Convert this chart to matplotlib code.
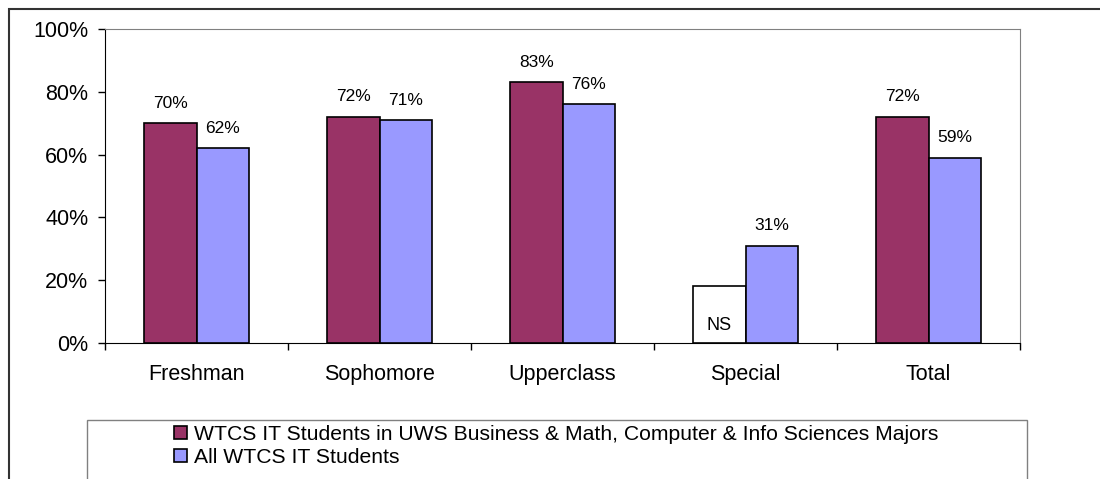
import numpy as np
import matplotlib.pyplot as plt
from matplotlib.patches import Rectangle, Patch

plt.rcParams['font.family'] = ['Liberation Sans', 'DejaVu Sans']

categories = ["Freshman", "Sophomore", "Upperclass", "Special", "Total"]
uws_majors = [70, 72, 83, 18, 72]
all_students = [62, 71, 76, 31, 59]
uws_labels = ["70%", "72%", "83%", "NS", "72%"]
all_labels = ["62%", "71%", "76%", "31%", "59%"]
y_ticks = [0, 20, 40, 60, 80, 100]
y_tick_labels = ["0%", "20%", "40%", "60%", "80%", "100%"]
series_names = ["WTCS IT Students in UWS Business & Math, Computer & Info Sciences Majors",
                "All WTCS IT Students"]

maroon = "#993366"
lilac = "#9999FF"

W, H = 1100, 479
fig = plt.figure(figsize=(W / 100, H / 100), dpi=100)

# outer chart frame (runs off the right and bottom edges)
fig.patches.append(Rectangle((8.5 / W, -0.05), 1.2, 1 - 9 / H + 0.05,
                             transform=fig.transFigure, fill=False,
                             edgecolor="#333333", linewidth=1.5))

ax = fig.add_axes([105 / W, 1 - 343 / H, (1020 - 105) / W, (343 - 29) / H])

x = np.arange(len(categories))
w = 0.285
face_uws = [maroon if lab != "NS" else "white" for lab in uws_labels]
ax.bar(x - w / 2, uws_majors, w, color=face_uws, edgecolor="black", linewidth=1.2, zorder=3)
ax.bar(x + w / 2, all_students, w, color=lilac, edgecolor="black", linewidth=1.2, zorder=3)

for i in range(len(categories)):
    if uws_labels[i] == "NS":
        ax.annotate("NS", (x[i] - w / 2, 0), xytext=(0, 9), textcoords="offset points",
                    ha="center", va="baseline", fontsize=13)
    else:
        ax.annotate(uws_labels[i], (x[i] - w / 2, uws_majors[i]), xytext=(0, 9),
                    textcoords="offset points", ha="center", va="bottom", fontsize=12.5)
    ax.annotate(all_labels[i], (x[i] + w / 2, all_students[i]), xytext=(0, 9),
                textcoords="offset points", ha="center", va="bottom", fontsize=12.5)

ax.set_xlim(-0.5, len(categories) - 0.5)
ax.set_ylim(0, 100)
ax.set_yticks(y_ticks)
ax.set_yticklabels(y_tick_labels, fontsize=15.5)
ax.tick_params(axis="y", direction="out", length=5, width=1, pad=7)

ax.set_xticks(x)
ax.set_xticklabels(categories, fontsize=15.5)
ax.tick_params(axis="x", which="major", length=0, pad=15)
ax.set_xticks(np.arange(len(categories) + 1) - 0.5, minor=True)
ax.tick_params(axis="x", which="minor", direction="out", length=5, width=1)

for side in ["top", "right"]:
    ax.spines[side].set_color("#808080")
for side in ["left", "bottom"]:
    ax.spines[side].set_color("black")

# legend box (also cut off by the bottom edge)
fig.patches.append(Rectangle((87 / W, -0.05), (1027 - 87) / W, 1 - 420 / H + 0.05,
                             transform=fig.transFigure, fill=False,
                             edgecolor="#808080", linewidth=1))
handles = [Patch(facecolor=maroon, edgecolor="black", linewidth=1.2),
           Patch(facecolor=lilac, edgecolor="black", linewidth=1.2)]
fig.legend(handles, series_names, loc="upper left", bbox_to_anchor=(174 / W, 1 - 425 / H),
           frameon=False, fontsize=15.2, borderpad=0, borderaxespad=0,
           handlelength=0.6, handleheight=0.6, handletextpad=0.35, labelspacing=0.2)

fig.savefig("out.png", dpi=100)
